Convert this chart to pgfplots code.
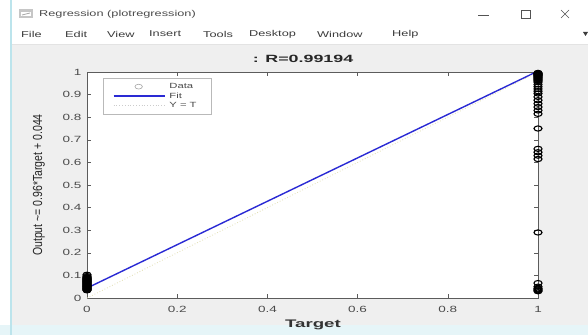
\documentclass[border=0pt]{standalone}
\usepackage{pgfplots}
\pgfplotsset{compat=1.18}
\usepackage{fontspec}
\setmainfont{Liberation Sans}[FakeStretch=1.5]
\newfontfamily\uifont{Liberation Sans}[FakeStretch=1.5]
\newfontfamily\widefont{Liberation Sans}[FakeStretch=1.7]
\newfontfamily\plainfont{Liberation Sans}

\definecolor{figbg}{HTML}{EFEFEF}
\definecolor{edge}{HTML}{BCE4EC}
\definecolor{band}{HTML}{E6F5F8}
\definecolor{fitblue}{HTML}{2A2AD4}
\definecolor{idline}{HTML}{E2DFB4}
\definecolor{axgray}{HTML}{5C5C5C}
\definecolor{txtgray}{HTML}{4A4A4A}
\definecolor{menugray}{HTML}{3C3C3C}

% legend samples: long line, circle in the middle
\pgfplotsset{
  longline legend/.style={legend image code/.code={\path (0pt,0pt); \draw[##1] (8pt,0pt) -- (59pt,0pt);}},
  faintline legend/.style={legend image code/.code={\path (0pt,0pt); \draw[##1, gray!40] (8pt,0pt) -- (59pt,0pt);}},
  circle legend/.style={legend image code/.code={\path (0pt,0pt);
    \draw[gray!70, line width=0.6pt, xscale=1.55] (33pt/1.55,0pt) circle (2.4pt);}},
}

% targets and network outputs
\pgfplotstableread{
t y
0 0.034
0 0.036
0 0.038
0 0.040
0 0.042
0 0.044
0 0.046
0 0.048
0 0.050
0 0.052
0 0.054
0 0.056
0 0.058
0 0.060
0 0.062
0 0.064
0 0.066
0 0.068
0 0.070
0 0.072
0 0.074
0 0.076
0 0.078
0 0.080
0 0.082
0 0.084
0 0.086
0 0.088
0 0.090
0 0.093
0 0.097
0 0.103
1 0.996
1 0.994
1 0.992
1 0.990
1 0.988
1 0.986
1 0.984
1 0.981
1 0.978
1 0.975
1 0.972
1 0.968
1 0.964
1 0.960
1 0.955
1 0.945
1 0.935
1 0.925
1 0.915
1 0.905
1 0.890
1 0.875
1 0.860
1 0.845
1 0.830
1 0.815
1 0.750
1 0.660
1 0.645
1 0.630
1 0.615
1 0.290
1 0.066
1 0.050
1 0.042
1 0.038
1 0.034
1 0.030
}\regdata

\begin{document}
\begin{tikzpicture}[x=1pt,y=1pt]
% window frame
\fill[white] (0,0) rectangle (588,335);
\fill[figbg] (12,10) rectangle (588,291);
\fill[band] (0,0) rectangle (588,10);
\draw[edge, line width=1.6pt] (11,0) -- (11,335);
\draw[gray!22] (12,291) -- (588,291);
% title bar
\fill[gray!45] (19,317) rectangle (33,326);
\fill[white] (21,319) rectangle (31,323);
\draw[gray!70, line width=0.8pt] (22,320) -- (30,322);
\node[anchor=west, inner sep=0pt, font=\uifont\fontsize{8.5}{10}\selectfont, text=gray!60!black] at (39,321) {Regression (plotregression)};
\draw[gray!65!black, line width=0.6pt] (478,320) -- (489,320);
\draw[gray!65!black, line width=0.6pt] (521,316.5) rectangle (530,324.5);
\draw[gray!65!black, line width=0.6pt] (561,317) -- (569,325) (561,325) -- (569,317);
% menu bar
\foreach \x/\t in {21/File,65/Edit,107/View,149/Insert,203/Tools,249/Desktop,317/Window,392/Help}
  \node[anchor=west, inner sep=0pt, font=\uifont\fontsize{8.5}{10}\selectfont, text=menugray] at (\x,301) {\t};
\fill[menugray] (583,303) -- (588,303) -- (585.5,299) -- cycle;

\begin{axis}[
  at={(87pt,37pt)}, anchor=south west,
  width=451pt, height=226pt, scale only axis,
  xmin=0, xmax=1, ymin=0, ymax=1,
  clip=false,
  axis background/.style={fill=white},
  xtick={0,0.2,0.4,0.6,0.8,1},
  ytick={0,0.1,0.2,0.3,0.4,0.5,0.6,0.7,0.8,0.9,1},
  tick align=inside, major tick length=4pt,
  every tick/.style={axgray, line width=0.5pt},
  axis line style={axgray, line width=0.6pt},
  /pgf/number format/assume math mode=true,
  tick label style={font=\uifont\fontsize{9}{10}\selectfont, text=txtgray},
  xticklabel style={yshift=-5pt},
  yticklabel style={xshift=-2pt},
  title={: R=0.99194},
  title style={font=\widefont\bfseries\fontsize{10.5}{12}\selectfont, text=black!85,
    at={(0.479,1)}, anchor=base, yshift=3.5pt},
  xlabel={Target},
  xlabel style={font=\widefont\bfseries\fontsize{11}{12}\selectfont, text=black!80,
    at={(axis description cs:0.501,0)}, anchor=base, yshift=-29pt},
  ylabel={\scalebox{1}[1.25]{Output \textasciitilde= 0.96*Target + 0.044}},
  ylabel style={font=\plainfont\fontsize{10.5}{12}\selectfont, text=black!85,
    at={(axis description cs:-0.1064,0.5)}, anchor=center},
  legend style={at={(rel axis cs:0.035,0.973)}, anchor=north west,
    draw=gray!55, fill=white, text=txtgray,
    font=\uifont\fontsize{7.5}{8}\selectfont,
    inner xsep=2pt, inner ysep=3pt, row sep=-1.3pt},
  legend cell align=left,
]
\addplot[only marks, mark=o, mark size=2.6pt, black,
  mark options={xscale=1.55, line width=1.1pt}, circle legend]
  table[x=t, y=y] {\regdata};
\addlegendentry{\makebox[40pt][l]{\hspace{2pt}Data}}
\addplot[fitblue, line width=1.4pt, longline legend]
  coordinates {(0,0.044) (1,1.004)};
\addlegendentry{\makebox[40pt][l]{\hspace{2pt}Fit}}
\addplot[idline, dotted, line width=0.8pt, faintline legend]
  coordinates {(0,0) (1,1)};
\addlegendentry{\makebox[40pt][l]{\hspace{2pt}Y = T}}
\end{axis}
\pgfresetboundingbox
\path (0,0) rectangle (588,335);
\end{tikzpicture}
\end{document}
